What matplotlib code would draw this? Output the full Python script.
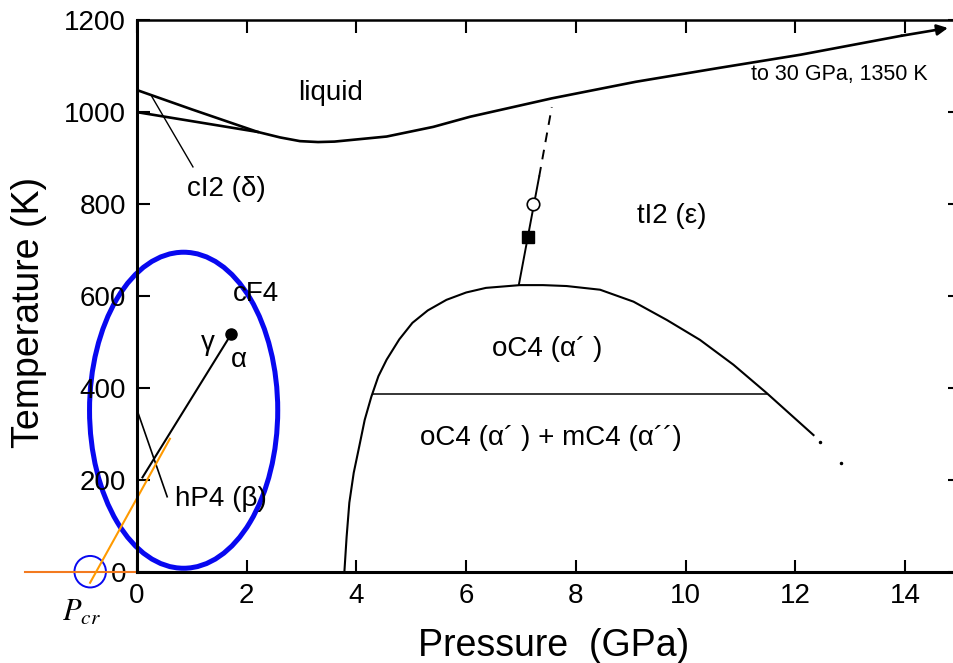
import numpy as np
import matplotlib.pyplot as plt
from matplotlib.patches import Ellipse

plt.rcParams['font.family'] = ['Liberation Sans', 'DejaVu Sans']

# melting curve (upper delta/liquid line continues as liquidus), GPa / K
melt_P = [0.0, 1.0, 2.2, 2.61, 2.97, 3.3, 3.6, 4.55, 5.4, 6.07, 7.56, 9.09, 10.6, 12.1, 13.93, 14.78]
melt_T = [1047, 1005, 956, 944, 936, 934, 935, 946, 967, 989, 1029, 1065, 1095, 1124, 1165, 1182]

# delta / gamma boundary
dg_P = [0.0, 2.2]
dg_T = [999, 956]

# alpha-gamma line ending at critical point
ag_P = [0.1, 1.72]
ag_T = [205, 517]
crit_P, crit_T = 1.72, 517

# beta boundary (with pointer to hP4 label)
beta_P = [0.02, 0.55]
beta_T = [345, 163]

# pointer to cI2 label
ci2_P = [0.27, 1.02]
ci2_T = [1033, 880]

# oC4 dome
dome_P = [3.78, 3.82, 3.87, 3.95, 4.05, 4.15, 4.27, 4.4, 4.55, 4.78, 5.02, 5.3, 5.64, 6.0, 6.36,
          6.98, 7.4, 7.83, 8.44, 9.05, 9.66, 10.26, 10.87, 11.48, 11.9, 12.33]
dome_T = [0, 75, 150, 215, 272, 330, 380, 425, 461, 505, 541, 568, 591, 607, 617,
          623, 623, 621, 613, 587, 547, 504, 450, 388, 343, 297]
dots_P = [12.45, 12.84]
dots_T = [283, 237]

# oC4 / oC4+mC4 tie line
tie_P = [4.3, 11.48]
tie_T = [386, 386]

# alpha'/epsilon boundary: solid and dashed parts
eps_P = [6.96, 7.33]
eps_T = [624, 859]
eps_dash_P = [7.33, 7.56]
eps_dash_T = [859, 1010]
sq_P, sq_T = 7.13, 727
circ_P, circ_T = 7.22, 799

# orange extrapolation to Pcr
ext_P = [0.6, -0.855]
ext_T = [289, -24]
base_P = [-2.04, 0.0]
base_T = [0, 0]
pcr_P = -0.853

fig = plt.figure(figsize=(9.54, 6.63), dpi=100)
ax = fig.add_axes([0.1436, 0.1377, 0.8627, 0.8326])
ax.set_xlim(0, 15)
ax.set_ylim(0, 1200)

ax.plot(melt_P[:-1], melt_T[:-1], color='k', lw=1.9)
ax.annotate('', xy=(melt_P[-1], melt_T[-1]), xytext=(melt_P[-2], melt_T[-2]),
            arrowprops=dict(arrowstyle='-|>', color='k', lw=1.9, mutation_scale=16,
                            shrinkA=0, shrinkB=0))
ax.plot(dg_P, dg_T, color='k', lw=1.9)
ax.plot(ci2_P, ci2_T, color='k', lw=1.0)
ax.plot(ag_P, ag_T, color='k', lw=1.5)
ax.plot(crit_P, crit_T, 'o', color='k', ms=8)
ax.plot(beta_P, beta_T, color='k', lw=1.2)
ax.plot(dome_P, dome_T, color='k', lw=1.5)
ax.plot(dots_P, dots_T, '.', color='k', ms=3)
ax.plot(tie_P, tie_T, color='k', lw=1.1)
ax.plot(eps_P, eps_T, color='k', lw=1.4)
ax.plot(eps_dash_P, eps_dash_T, color='k', lw=1.4, dashes=(5, 4))
ax.plot(sq_P, sq_T, 's', color='k', ms=9)
ax.plot(circ_P, circ_T, 'o', mfc='white', mec='k', mew=1.2, ms=9)

ax.plot(base_P, base_T, color='#f37a1f', lw=1.5, clip_on=False)
ax.plot(ext_P, ext_T, color='#ff9a00', lw=1.5, clip_on=False)

ax.add_patch(Ellipse((0.85, 351), 3.43, 687, fill=False, ec='#0808f0', lw=3.6, clip_on=False))
ax.add_patch(Ellipse((pcr_P, 0), 0.574, 68.5, fill=False, ec='#0808f0', lw=1.4, clip_on=False))

fs = 20
ax.text(3.53, 1040, 'liquid', fontsize=fs, ha='center', va='center')
ax.text(1.63, 833, 'cI2 (δ)', fontsize=fs, ha='center', va='center')
ax.text(9.75, 773, 'tI2 (ε)', fontsize=fs, ha='center', va='center')
ax.text(12.8, 1080, 'to 30 GPa, 1350 K', fontsize=15.5, ha='center', va='center')
ax.text(2.16, 604, 'cF4', fontsize=fs, ha='center', va='center')
ax.text(1.29, 497, 'γ', fontsize=fs, ha='center', va='center')
ax.text(1.85, 461, 'α', fontsize=fs, ha='center', va='center')
ax.text(1.53, 158, 'hP4 (β)', fontsize=fs, ha='center', va='center')
ax.text(7.47, 484, 'oC4 (α´ )', fontsize=fs, ha='center', va='center')
ax.text(7.55, 291, 'oC4 (α´ ) + mC4 (α´´)', fontsize=fs, ha='center', va='center')
ax.text(-1.02, -90, r'$P_{cr}$', fontsize=22, math_fontfamily='stix',
        ha='center', va='center', clip_on=False)

ax.set_xticks(np.arange(0, 15, 2))
ax.set_yticks(np.arange(0, 1201, 200))
ax.tick_params(direction='in', length=9, width=1.5, top=True, right=True,
               labelsize=20, pad=8)
for side in ['left', 'bottom']:
    ax.spines[side].set_linewidth(2.2)
for side in ['top', 'right']:
    ax.spines[side].set_linewidth(1.8)

fig.text(0.58, 0.026, 'Pressure  (GPa)', fontsize=27, ha='center', va='center')
fig.text(0.030, 0.528, 'Temperature (K)', fontsize=27, ha='center', va='center', rotation=90)

fig.savefig('out.png', dpi=100)
